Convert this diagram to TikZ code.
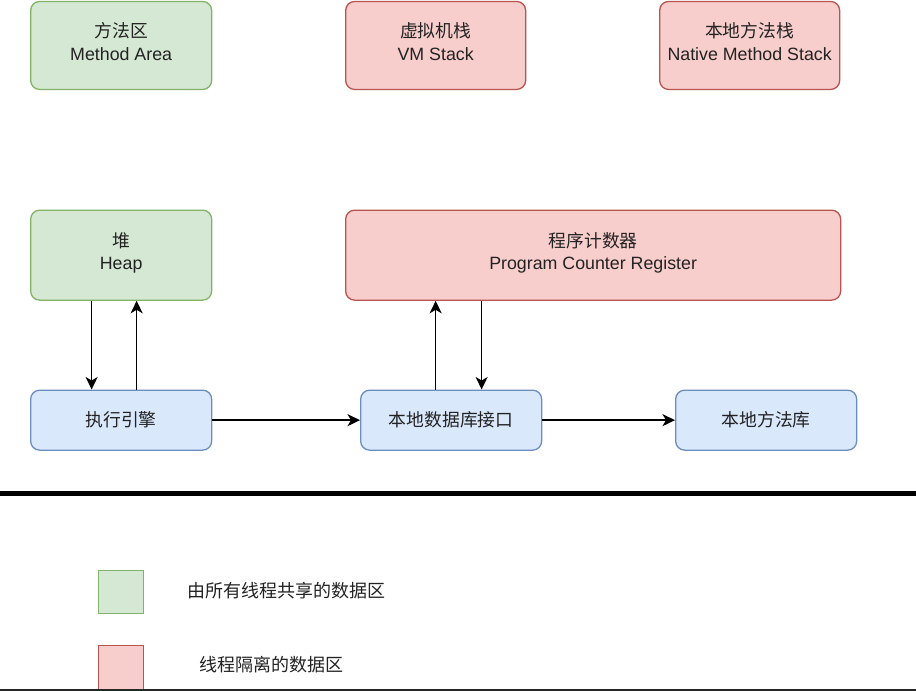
\documentclass[tikz,border=0pt]{standalone}
\usepackage{fontspec}
\setmainfont{Liberation Sans}
\newfontfamily\cjk{Noto Sans CJK SC}
\usetikzlibrary{arrows.meta}
\definecolor{gfill}{HTML}{D5E8D4}
\definecolor{gline}{HTML}{82B366}
\definecolor{rfill}{HTML}{F8CECC}
\definecolor{rline}{HTML}{B85450}
\definecolor{bfill}{HTML}{DAE8FC}
\definecolor{bline}{HTML}{6C8EBF}
\definecolor{txt}{HTML}{222222}
\begin{document}
\begin{tikzpicture}[x=1pt,y=-1pt,
  box/.style={rounded corners=9pt, line width=1.3pt, align=center,
    font=\fontsize{17.8}{22.5}\selectfont, text=txt, inner sep=0pt, anchor=north west},
  gbox/.style={box, draw=gline, fill=gfill},
  rbox/.style={box, draw=rline, fill=rfill},
  bbox/.style={box, draw=bline, fill=bfill},
  conn/.style={-{Stealth[length=12.5pt,width=12pt,inset=3.5pt]}, line width=1.5pt, draw=black},
  legtxt/.style={font=\fontsize{18}{22.5}\selectfont\cjk, text=txt, anchor=west, inner sep=0pt}]
\useasboundingbox (0,0) rectangle (916,691);
% top row
\node[gbox, minimum width=181pt, minimum height=88pt] (ma) at (30,0.8) {{\cjk 方法区}\\Method Area\\[-21pt]\strut};
\node[rbox, minimum width=180pt, minimum height=88pt] (vm) at (345,0.8) {{\cjk 虚拟机栈}\\VM Stack\\[-21pt]\strut};
\node[rbox, minimum width=180pt, minimum height=88pt] (nms) at (659,0.8) {{\cjk 本地方法栈}\\Native Method Stack\\[-21pt]\strut};
% middle row
\node[gbox, minimum width=181pt, minimum height=90pt] (heap) at (30,209.5) {{\cjk 堆}\\Heap\\[-21pt]\strut};
\node[rbox, minimum width=495pt, minimum height=90pt] (pcr) at (345,209.5) {{\cjk 程序计数器}\\Program Counter Register\\[-21pt]\strut};
% bottom row
\node[bbox, minimum width=181pt, minimum height=60pt] (ee) at (30,389.5) {\cjk 执行引擎};
\node[bbox, minimum width=181pt, minimum height=60pt] (ni) at (360,389.5) {\cjk 本地数据库接口};
\node[bbox, minimum width=181pt, minimum height=60pt] (nl) at (675,389.5) {\cjk 本地方法库};
% arrows
\coordinate (h1) at ([xshift=-29.5pt]heap.south);
\coordinate (h2) at ([xshift=15.5pt]heap.south);
\draw[conn] (h1) -- (h1 |- ee.north);
\draw[conn] (h2 |- ee.north) -- (h2);
\coordinate (p1) at ([xshift=-15.5pt]ni.north);
\coordinate (p2) at ([xshift=30.5pt]ni.north);
\draw[conn] (p1) -- (p1 |- pcr.south);
\draw[conn] (p2 |- pcr.south) -- (p2);
\draw[conn] (ee.east) -- (ni.west);
\draw[conn] (ni.east) -- (nl.west);
% separator
\coordinate (sl) at (0,493.5);
\coordinate (sr) at (916,493.5);
\draw[line width=4.5pt] (sl) -- (sr);
% legend
\node[draw=gline, fill=gfill, line width=1.3pt, minimum width=45pt, minimum height=43pt, inner sep=0pt, anchor=north west] (lg) at (98,570) {};
\node[draw=rline, fill=rfill, line width=1.3pt, minimum width=45pt, minimum height=46pt, inner sep=0pt, anchor=north west] (lr) at (98,645) {};
\node[legtxt] (tg) at (187,591) {由所有线程共享的数据区};
\node[legtxt] (tr) at (199,665) {线程隔离的数据区};
\coordinate (bl) at (0,690);
\coordinate (br) at (916,690);
\draw[line width=1.5pt, black!85] (bl) -- (br);
\end{tikzpicture}
\end{document}
